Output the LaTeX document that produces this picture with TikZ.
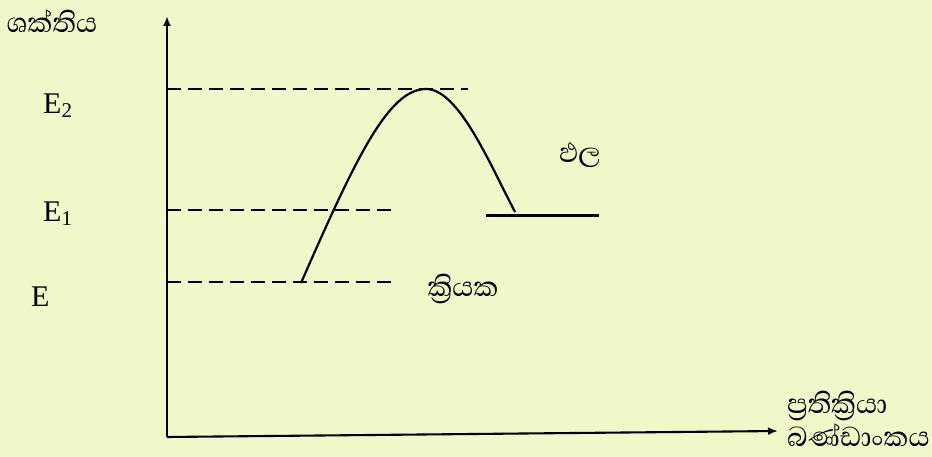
\documentclass[tikz,border=0pt]{standalone}
\usepackage{fontspec}
\setmainfont{Liberation Serif}
\newfontfamily\sinhfont[Script=Sinhala]{Abhaya Libre}
\usetikzlibrary{arrows.meta}
\definecolor{bgc}{RGB}{240,248,202}
\tikzset{
  axis/.style={line width=2.1pt, -{Latex[length=10pt,width=8pt]}},
  level/.style={line width=2.2pt, dash pattern=on 14pt off 7pt},
  curveline/.style={line width=2.2pt},
  sinlbl/.style={font=\sinhfont\fontsize{35}{40}\selectfont, inner sep=0pt},
  elbl/.style={font=\fontsize{30}{34}\selectfont, inner sep=0pt, anchor=base west}
}
\newcommand{\sbx}[1]{\raisebox{-4pt}{\fontsize{21}{24}\selectfont #1}}
\begin{document}
\begin{tikzpicture}[x=1pt,y=-1pt]
\fill[bgc] (0,0) rectangle (932,457);
\useasboundingbox (0,0) rectangle (932,457);
% axes
\coordinate (origin) at (167,437);
\coordinate (ytop) at (167,16);
\coordinate (xend) at (778,431);
\draw[axis] (origin) -- (ytop);
\draw[axis] (origin) -- (xend);
% levels
\coordinate (e2a) at (167,89);  \coordinate (e2b) at (468,89);
\coordinate (e1a) at (167,210); \coordinate (e1b) at (396,210);
\coordinate (e0a) at (167,282); \coordinate (e0b) at (396,282);
\draw[level] (e2a) -- (e2b);
\draw[level] (e1a) -- (e1b);
\draw[level] (e0a) -- (e0b);
% curve
\coordinate (cstart) at (301,283);
\coordinate (peak) at (426,89);
\coordinate (cend) at (515,212);
\draw[curveline] (cstart) .. controls (355,160) and (388,89) .. (peak)
  .. controls (458,89) and (488,160) .. (cend);
% product level
\coordinate (pa) at (486,215.5);
\coordinate (pb) at (599,215.5);
\draw[curveline] (pa) -- (pb);
% labels
\node[sinlbl] (yl) at (52,21) {ශක්තිය};
\node[elbl] (E2) at (43,114) {E\sbx{2}};
\node[elbl] (E1) at (43,222) {E\sbx{1}};
\node[elbl] (E0) at (31,306) {E};
\node[sinlbl] (prod) at (580,155) {ඵල};
\node[sinlbl] (reac) at (463,289) {ක්‍රියක};
\node[sinlbl, anchor=base west] (xl1) at (787,413) {ප්‍රතික්‍රියා};
\node[sinlbl, anchor=base west] (xl2) at (787,446) {බණ්ඩාංකය};
\end{tikzpicture}
\end{document}
